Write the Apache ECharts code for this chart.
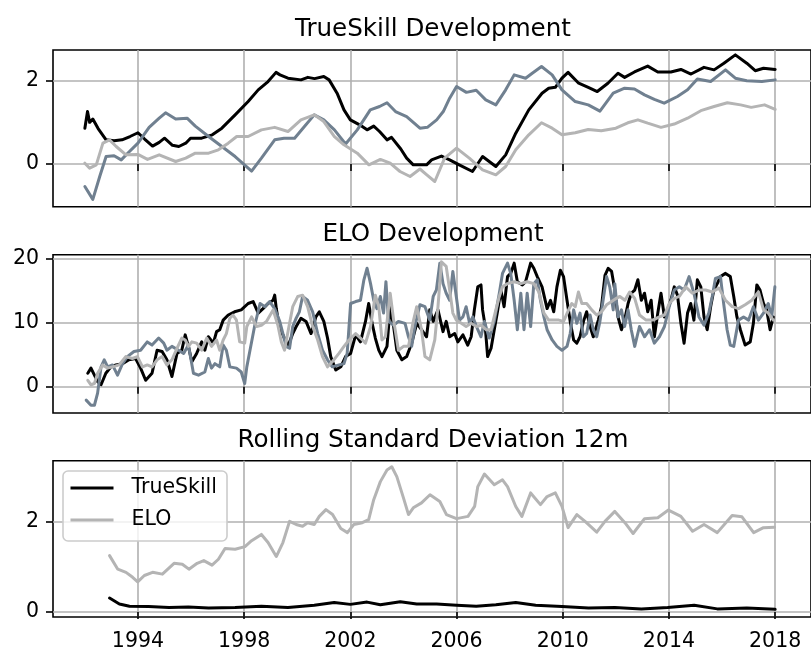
<!DOCTYPE html>
<html>
<head>
<meta charset="utf-8">
<script src="https://cdn.jsdelivr.net/npm/echarts@6/dist/echarts.min.js"></script>
<style>html,body{margin:0;padding:0;background:#fff}#c{width:811px;height:652px}</style>
</head>
<body>
<div id="c"></div>
<script>
// ---- tick labels ----
const xTicks = [1994, 1998, 2002, 2006, 2010, 2014, 2018];
const yTicksTop = [0, 2];
const yTicksMid = [0, 10, 20];
const yTicksBot = [0, 2];
const titles = ['TrueSkill Development', 'ELO Development', 'Rolling Standard Deviation 12m'];
const legendNames = ['TrueSkill', 'ELO'];

// ---- TrueSkill development: [year, value] ----
const tsBlack = [[1992.0,0.86],[1992.1,1.26],[1992.18,1.0],[1992.3,1.08],[1992.5,0.85],[1992.8,0.58],[1993.1,0.56],[1993.4,0.58],[1993.7,0.66],[1994.0,0.75],[1994.25,0.6],[1994.55,0.43],[1994.8,0.52],[1995.0,0.62],[1995.3,0.45],[1995.54,0.42],[1995.8,0.5],[1995.98,0.62],[1996.4,0.62],[1996.8,0.7],[1997.16,0.86],[1997.66,1.18],[1998.15,1.5],[1998.53,1.78],[1998.9,1.98],[1999.2,2.2],[1999.35,2.14],[1999.65,2.06],[2000.14,2.02],[2000.4,2.08],[2000.65,2.05],[2001.0,2.1],[2001.2,2.02],[2001.5,1.7],[2001.76,1.3],[2002.0,1.06],[2002.35,0.94],[2002.63,0.82],[2002.88,0.91],[2003.1,0.78],[2003.38,0.58],[2003.55,0.64],[2003.9,0.36],[2004.12,0.14],[2004.37,-0.02],[2004.87,-0.02],[2005.06,0.1],[2005.43,0.19],[2005.74,0.1],[2006.1,-0.02],[2006.6,-0.18],[2006.98,0.18],[2007.48,-0.06],[2007.85,0.22],[2008.23,0.74],[2008.72,1.3],[2009.22,1.7],[2009.47,1.82],[2009.72,1.84],[2009.97,2.06],[2010.2,2.2],[2010.6,1.94],[2010.96,1.84],[2011.3,1.74],[2011.7,1.94],[2012.08,2.18],[2012.33,2.08],[2012.7,2.21],[2013.2,2.35],[2013.58,2.21],[2014.07,2.21],[2014.45,2.27],[2014.83,2.16],[2015.32,2.32],[2015.7,2.26],[2016.07,2.42],[2016.5,2.62],[2016.93,2.42],[2017.25,2.24],[2017.56,2.3],[2018.0,2.27]];
const tsSlate = [[1992.0,-0.54],[1992.3,-0.85],[1992.56,-0.3],[1992.8,0.18],[1993.1,0.2],[1993.37,0.1],[1993.68,0.3],[1994.0,0.5],[1994.42,0.88],[1994.8,1.1],[1995.04,1.23],[1995.42,1.08],[1995.85,1.1],[1996.16,0.91],[1996.66,0.66],[1997.16,0.42],[1997.66,0.18],[1998.28,-0.17],[1998.65,0.14],[1999.15,0.58],[1999.5,0.62],[1999.9,0.62],[2000.27,0.9],[2000.64,1.18],[2001.0,1.06],[2001.4,0.82],[2001.82,0.48],[2002.26,0.82],[2002.75,1.3],[2003.1,1.38],[2003.38,1.47],[2003.7,1.26],[2004.12,1.14],[2004.62,0.86],[2004.9,0.88],[2005.25,1.06],[2005.5,1.26],[2005.74,1.58],[2006.0,1.86],[2006.37,1.72],[2006.74,1.77],[2007.1,1.54],[2007.48,1.42],[2007.85,1.78],[2008.17,2.14],[2008.6,2.06],[2008.85,2.18],[2009.2,2.34],[2009.6,2.14],[2009.97,1.78],[2010.47,1.5],[2010.96,1.42],[2011.4,1.27],[2011.9,1.7],[2012.33,1.82],[2012.7,1.8],[2013.08,1.66],[2013.45,1.55],[2013.82,1.46],[2014.32,1.62],[2014.7,1.78],[2015.07,2.04],[2015.57,1.98],[2016.13,2.26],[2016.5,2.06],[2016.93,2.0],[2017.5,1.98],[2018.0,2.02]];
const tsGray = [[1992.0,0.02],[1992.18,-0.1],[1992.43,-0.02],[1992.68,0.5],[1992.93,0.58],[1993.18,0.42],[1993.55,0.22],[1994.0,0.23],[1994.36,0.11],[1994.8,0.22],[1995.42,0.06],[1995.8,0.14],[1996.16,0.26],[1996.66,0.26],[1997.03,0.34],[1997.4,0.5],[1997.72,0.66],[1998.15,0.66],[1998.65,0.82],[1999.15,0.88],[1999.65,0.78],[2000.14,1.06],[2000.64,1.18],[2001.0,1.02],[2001.4,0.66],[2001.76,0.46],[2002.26,0.26],[2002.7,-0.02],[2003.13,0.11],[2003.5,0.02],[2003.87,-0.18],[2004.25,-0.3],[2004.62,-0.12],[2004.88,-0.26],[2005.18,-0.42],[2005.55,0.14],[2006.0,0.38],[2006.48,0.14],[2006.98,-0.14],[2007.48,-0.26],[2007.85,-0.06],[2008.23,0.34],[2008.72,0.7],[2009.2,0.99],[2009.6,0.86],[2009.97,0.7],[2010.47,0.75],[2010.96,0.83],[2011.45,0.8],[2012.0,0.86],[2012.45,0.99],[2012.83,1.06],[2013.2,0.98],[2013.7,0.88],[2014.2,0.96],[2014.7,1.1],[2015.2,1.28],[2015.7,1.38],[2016.2,1.47],[2016.7,1.42],[2017.1,1.36],[2017.6,1.42],[2018.0,1.31]];

// ---- ELO development: [year, value] ----
const eloBlack = [[1992.11,2.1],[1992.23,2.9],[1992.36,1.8],[1992.48,0.8],[1992.61,0.3],[1992.79,2.1],[1992.98,3.1],[1993.17,3.4],[1993.42,3.6],[1993.66,4.2],[1993.91,4.4],[1994.1,2.9],[1994.29,1.0],[1994.53,2.1],[1994.72,5.7],[1994.91,5.5],[1995.09,4.2],[1995.28,1.6],[1995.47,5.2],[1995.65,5.7],[1995.78,8.1],[1995.9,6.3],[1996.03,3.9],[1996.21,5.2],[1996.4,7.0],[1996.52,5.7],[1996.65,7.8],[1996.84,6.8],[1996.96,8.6],[1997.08,8.9],[1997.21,10.4],[1997.4,11.2],[1997.64,11.7],[1997.89,12.0],[1998.15,13.0],[1998.34,13.3],[1998.53,11.5],[1998.71,12.2],[1998.9,13.0],[1999.09,13.5],[1999.15,14.3],[1999.21,12.2],[1999.34,8.9],[1999.46,8.1],[1999.65,6.3],[1999.83,8.3],[1999.96,9.4],[2000.14,10.7],[2000.33,10.2],[2000.52,8.3],[2000.7,10.9],[2000.83,11.7],[2001.0,10.2],[2001.14,7.6],[2001.26,4.7],[2001.45,2.6],[2001.64,3.1],[2001.82,4.7],[2002.01,5.2],[2002.2,8.1],[2002.38,7.0],[2002.57,10.2],[2002.69,13.0],[2002.82,9.9],[2002.94,7.6],[2003.07,5.7],[2003.19,4.7],[2003.38,6.3],[2003.5,12.5],[2003.63,9.4],[2003.75,5.7],[2003.94,4.2],[2004.12,4.7],[2004.31,6.8],[2004.5,9.9],[2004.68,8.9],[2004.87,7.8],[2004.99,12.0],[2005.12,10.2],[2005.3,12.0],[2005.49,8.6],[2005.61,10.2],[2005.74,7.8],[2005.93,8.3],[2006.05,7.0],[2006.24,8.1],[2006.42,6.5],[2006.55,7.8],[2006.67,12.0],[2006.8,15.6],[2006.92,15.9],[2006.98,12.0],[2007.08,9.4],[2007.17,4.7],[2007.3,6.0],[2007.42,8.9],[2007.54,11.7],[2007.67,15.1],[2007.79,12.5],[2007.92,17.2],[2008.04,17.7],[2008.17,19.3],[2008.29,16.4],[2008.48,15.9],[2008.6,16.4],[2008.79,19.3],[2008.91,18.5],[2009.04,17.2],[2009.22,15.6],[2009.41,12.2],[2009.54,13.5],[2009.66,11.7],[2009.78,15.6],[2009.91,18.2],[2010.03,17.2],[2010.16,13.5],[2010.28,10.2],[2010.41,7.3],[2010.53,6.8],[2010.65,7.8],[2010.78,10.2],[2010.9,11.7],[2011.03,9.4],[2011.15,7.8],[2011.34,10.4],[2011.46,12.5],[2011.59,17.4],[2011.71,18.5],[2011.84,18.0],[2011.96,15.1],[2012.08,10.9],[2012.21,8.9],[2012.33,10.4],[2012.46,13.0],[2012.58,14.6],[2012.71,15.1],[2012.83,16.7],[2012.96,13.5],[2013.08,14.6],[2013.2,11.7],[2013.33,13.5],[2013.45,7.8],[2013.58,11.5],[2013.7,14.6],[2013.83,10.9],[2013.95,12.0],[2014.07,13.5],[2014.2,15.6],[2014.32,14.3],[2014.45,9.9],[2014.57,6.8],[2014.7,11.5],[2014.82,13.0],[2014.94,10.4],[2015.07,16.7],[2015.2,15.6],[2015.32,10.9],[2015.44,8.9],[2015.57,12.5],[2015.69,15.1],[2015.82,16.1],[2015.94,17.2],[2016.13,17.7],[2016.31,17.2],[2016.44,14.1],[2016.56,10.9],[2016.69,8.9],[2016.87,6.5],[2017.06,7.0],[2017.18,9.9],[2017.31,15.9],[2017.43,15.1],[2017.56,13.0],[2017.68,12.0],[2017.81,8.9],[2017.93,10.9]];
const eloSlate = [[1992.05,-2.1],[1992.23,-2.9],[1992.36,-2.9],[1992.48,-1.0],[1992.61,3.1],[1992.73,4.2],[1992.86,3.1],[1993.04,3.4],[1993.23,1.8],[1993.42,3.6],[1993.6,4.7],[1993.85,5.5],[1994.1,5.7],[1994.35,7.0],[1994.53,6.5],[1994.78,7.6],[1994.97,6.8],[1995.09,5.7],[1995.28,6.3],[1995.53,5.7],[1995.72,5.2],[1995.9,6.5],[1996.09,2.1],[1996.28,1.8],[1996.52,2.3],[1996.65,4.4],[1996.77,2.9],[1996.9,3.6],[1997.08,3.1],[1997.21,6.5],[1997.33,5.7],[1997.46,3.1],[1997.71,2.9],[1997.89,2.3],[1998.02,0.5],[1998.1,3.1],[1998.22,5.7],[1998.4,9.6],[1998.6,13.0],[1998.78,12.5],[1998.96,13.3],[1999.15,12.2],[1999.34,10.2],[1999.46,8.3],[1999.58,6.3],[1999.71,6.0],[1999.83,9.4],[1999.96,10.7],[2000.08,11.7],[2000.2,14.1],[2000.39,13.5],[2000.58,11.7],[2000.77,8.3],[2000.95,5.7],[2001.14,4.2],[2001.32,3.1],[2001.57,3.4],[2001.76,3.6],[2001.88,5.2],[2002.01,13.0],[2002.2,13.3],[2002.38,13.5],[2002.51,16.7],[2002.63,18.5],[2002.76,16.1],[2002.88,13.5],[2003.0,12.2],[2003.13,14.1],[2003.25,11.5],[2003.34,16.4],[2003.44,10.2],[2003.63,9.6],[2003.81,10.2],[2004.06,9.9],[2004.19,7.8],[2004.31,6.3],[2004.43,9.4],[2004.62,12.8],[2004.81,12.5],[2004.99,10.4],[2005.12,14.1],[2005.24,15.1],[2005.37,19.3],[2005.49,16.1],[2005.61,14.6],[2005.74,13.5],[2005.86,18.0],[2005.99,14.1],[2006.11,10.4],[2006.24,10.9],[2006.36,12.5],[2006.49,9.9],[2006.61,10.9],[2006.8,8.9],[2006.92,7.8],[2007.05,10.2],[2007.23,7.6],[2007.42,10.2],[2007.61,14.6],[2007.73,17.7],[2007.92,19.3],[2008.04,17.7],[2008.17,13.5],[2008.29,8.9],[2008.42,14.6],[2008.54,8.9],[2008.66,14.6],[2008.79,9.4],[2008.91,16.1],[2009.04,16.7],[2009.16,13.5],[2009.29,10.9],[2009.41,8.9],[2009.6,7.3],[2009.78,6.3],[2009.97,5.7],[2010.16,6.3],[2010.28,8.3],[2010.41,12.0],[2010.53,9.9],[2010.65,11.5],[2010.78,7.8],[2010.9,8.3],[2011.03,11.2],[2011.15,8.9],[2011.28,7.8],[2011.4,10.2],[2011.52,13.5],[2011.65,17.2],[2011.77,15.6],[2011.9,12.0],[2011.96,16.1],[2012.08,10.9],[2012.21,12.0],[2012.33,9.4],[2012.46,12.0],[2012.58,8.9],[2012.71,6.3],[2012.89,9.4],[2013.08,7.8],[2013.27,8.9],[2013.45,6.8],[2013.64,7.8],[2013.83,9.4],[2014.01,12.5],[2014.2,15.1],[2014.39,15.6],[2014.57,15.1],[2014.76,17.2],[2014.94,14.6],[2015.13,10.9],[2015.32,9.6],[2015.5,11.5],[2015.63,14.1],[2015.75,16.9],[2015.94,17.2],[2016.06,13.0],[2016.19,8.9],[2016.31,6.5],[2016.44,6.3],[2016.62,10.4],[2016.81,10.9],[2017.0,10.4],[2017.18,12.5],[2017.37,10.4],[2017.56,11.5],[2017.74,13.0],[2017.87,10.9],[2017.99,15.6]];
const eloGray = [[1992.11,1.0],[1992.23,0.3],[1992.36,0.5],[1992.48,2.1],[1992.67,3.4],[1992.86,2.9],[1993.04,3.1],[1993.29,3.4],[1993.54,4.7],[1993.79,4.4],[1993.98,4.7],[1994.17,3.1],[1994.35,3.4],[1994.53,3.1],[1994.72,4.2],[1994.91,4.7],[1995.09,3.4],[1995.28,4.2],[1995.47,6.0],[1995.65,7.6],[1995.78,7.3],[1995.9,6.3],[1996.03,7.0],[1996.21,6.8],[1996.4,5.7],[1996.59,7.6],[1996.77,6.3],[1996.96,7.3],[1997.08,5.7],[1997.21,7.3],[1997.33,8.3],[1997.46,10.7],[1997.58,11.2],[1997.71,10.4],[1997.83,7.0],[1998.02,6.8],[1998.1,9.4],[1998.28,10.9],[1998.47,9.4],[1998.65,9.6],[1998.84,10.2],[1999.09,12.0],[1999.27,9.6],[1999.4,7.0],[1999.52,5.7],[1999.71,9.9],[1999.83,12.5],[2000.02,14.1],[2000.2,14.3],[2000.39,12.5],[2000.58,9.4],[2000.77,7.3],[2000.95,4.7],[2001.14,3.1],[2001.32,3.9],[2001.57,5.2],[2001.76,6.3],[2001.95,7.3],[2002.2,8.3],[2002.38,7.6],[2002.57,6.8],[2002.76,9.4],[2002.94,14.3],[2003.07,12.5],[2003.19,7.3],[2003.32,7.8],[2003.5,14.6],[2003.63,10.4],[2003.81,5.7],[2004.0,6.3],[2004.19,6.3],[2004.37,10.2],[2004.5,12.5],[2004.68,8.9],[2004.81,4.7],[2004.99,4.2],[2005.18,7.3],[2005.3,12.5],[2005.43,19.5],[2005.61,18.8],[2005.74,15.1],[2005.86,11.5],[2005.99,10.4],[2006.18,9.9],[2006.36,9.4],[2006.55,9.9],[2006.74,9.4],[2006.92,9.6],[2007.11,8.9],[2007.3,8.9],[2007.48,12.0],[2007.61,14.1],[2007.73,15.6],[2007.92,16.1],[2008.17,16.4],[2008.42,16.1],[2008.66,16.4],[2008.91,16.1],[2009.1,14.8],[2009.29,11.5],[2009.47,10.4],[2009.66,10.4],[2009.85,10.4],[2010.03,10.2],[2010.22,12.0],[2010.34,13.0],[2010.47,12.5],[2010.59,14.8],[2010.72,13.0],[2010.9,13.0],[2011.09,12.0],[2011.28,11.2],[2011.46,11.7],[2011.65,12.8],[2011.84,13.3],[2012.02,13.8],[2012.15,14.1],[2012.34,13.5],[2012.52,14.8],[2012.71,13.8],[2012.89,11.2],[2013.14,10.4],[2013.39,10.4],[2013.64,10.9],[2013.83,11.2],[2014.01,13.0],[2014.2,13.8],[2014.39,14.1],[2014.63,15.6],[2014.88,14.6],[2015.13,15.1],[2015.38,15.1],[2015.63,14.8],[2015.88,15.4],[2016.13,13.5],[2016.38,12.5],[2016.62,12.2],[2016.87,12.8],[2017.12,13.5],[2017.37,14.8],[2017.56,12.0],[2017.74,11.5],[2017.93,10.4]];

// ---- Rolling standard deviation 12m: [year, value] ----
const sdTrueSkill = [[1992.93,0.31],[1993.3,0.18],[1993.68,0.13],[1994.4,0.12],[1995.17,0.1],[1995.9,0.11],[1996.66,0.09],[1997.66,0.1],[1998.65,0.13],[1999.65,0.1],[2000.64,0.15],[2001.39,0.21],[2002.0,0.17],[2002.63,0.22],[2003.13,0.16],[2003.88,0.23],[2004.5,0.18],[2005.25,0.18],[2006.0,0.15],[2006.74,0.13],[2007.48,0.16],[2008.23,0.21],[2008.98,0.15],[2009.97,0.12],[2010.97,0.09],[2011.96,0.1],[2012.96,0.07],[2013.95,0.1],[2014.95,0.15],[2015.82,0.07],[2016.93,0.09],[2018.0,0.06]];
const sdElo = [[1992.93,1.25],[1993.24,0.95],[1993.55,0.88],[1993.8,0.77],[1993.99,0.67],[1994.24,0.81],[1994.55,0.88],[1994.92,0.84],[1995.36,1.08],[1995.67,1.06],[1995.92,0.95],[1996.23,1.08],[1996.48,1.14],[1996.79,1.04],[1997.03,1.17],[1997.28,1.41],[1997.66,1.39],[1998.03,1.45],[1998.28,1.58],[1998.65,1.72],[1998.9,1.54],[1999.21,1.23],[1999.46,1.54],[1999.71,2.01],[1999.96,1.94],[2000.2,1.9],[2000.39,1.98],[2000.64,1.94],[2000.83,2.12],[2001.08,2.27],[2001.33,2.16],[2001.64,1.85],[2001.89,1.76],[2002.13,1.94],[2002.45,1.98],[2002.69,2.05],[2002.88,2.49],[2003.13,2.89],[2003.38,3.15],[2003.56,3.22],[2003.75,3.0],[2004.0,2.53],[2004.19,2.16],[2004.37,2.31],[2004.68,2.42],[2005.0,2.6],[2005.37,2.45],[2005.62,2.16],[2006.0,2.07],[2006.43,2.12],[2006.68,2.34],[2006.8,2.78],[2007.05,3.06],[2007.42,2.82],[2007.73,2.93],[2007.92,2.78],[2008.23,2.34],[2008.46,2.12],[2008.79,2.64],[2009.16,2.38],[2009.41,2.56],[2009.72,2.64],[2009.97,2.34],[2010.2,1.87],[2010.53,2.16],[2010.84,2.01],[2011.28,1.77],[2011.59,2.01],[2011.96,2.23],[2012.34,1.98],[2012.65,1.74],[2013.08,2.07],[2013.58,2.09],[2013.98,2.26],[2014.45,2.12],[2014.89,1.79],[2015.32,1.94],[2015.82,1.76],[2016.38,2.14],[2016.75,2.11],[2017.19,1.76],[2017.56,1.87],[2017.97,1.88]];

// ---- styling ----
const FONT = 'DejaVu Sans';
const C_BLACK = '#000000', C_SLATE = '#708090', C_GRAY = '#b4b4b4';
const LW = 3;
const gridTops = [50, 254.7, 460.7];
const gridHeights = [156.7, 158.3, 157.6];
const yRanges = [[-1.025, 2.737], [-4.11, 20.62], [-0.11, 3.354]];
const yTickSets = [yTicksTop, yTicksMid, yTicksBot];

const chart = echarts.init(document.getElementById('c'), null, {renderer: 'canvas'});

const grids = gridTops.map((t, i) => ({
  left: 53, right: -6, top: t, height: gridHeights[i],
  show: true, borderColor: '#000', borderWidth: 1.6, backgroundColor: 'transparent'
}));

const xAxes = [0, 1, 2].map(i => ({
  type: 'value', gridIndex: i, min: 1990.8, max: 2019.35,
  axisLine: {show: false},
  axisTick: {show: true, inside: false, length: 7, customValues: xTicks, lineStyle: {color: '#000', width: 1.6}},
  axisLabel: {show: i === 2, customValues: xTicks, margin: 14, color: '#000', fontFamily: FONT, fontSize: 20.5,
    formatter: v => String(Math.round(v))},
  splitLine: {show: true, lineStyle: {color: '#b0b0b0', width: 1.6}}
}));

const yAxes = [0, 1, 2].map(i => ({
  type: 'value', gridIndex: i, min: yRanges[i][0], max: yRanges[i][1],
  axisLine: {show: false},
  axisTick: {show: true, inside: false, length: 7, customValues: yTickSets[i], lineStyle: {color: '#000', width: 1.6}},
  axisLabel: {show: true, customValues: yTickSets[i], margin: 14, color: '#000', fontFamily: FONT, fontSize: 20.5,
    formatter: v => String(Math.round(v))},
  splitLine: {show: true, lineStyle: {color: '#b0b0b0', width: 1.6}}
}));

function line(name, data, color, gi, z) {
  return {
    type: 'line', name: name, xAxisIndex: gi, yAxisIndex: gi, data: data,
    showSymbol: false, symbol: 'none', smooth: false, animation: false, z: z,
    lineStyle: {color: color, width: LW, join: 'round', cap: 'round'},
    itemStyle: {color: color}, clip: true
  };
}

const series = [
  line('ts_black', tsBlack, C_BLACK, 0, 2),
  line('ts_slate', tsSlate, C_SLATE, 0, 3),
  line('ts_gray', tsGray, C_GRAY, 0, 4),
  line('elo_black', eloBlack, C_BLACK, 1, 2),
  line('elo_slate', eloSlate, C_SLATE, 1, 3),
  line('elo_gray', eloGray, C_GRAY, 1, 4),
  line(legendNames[0], sdTrueSkill, C_BLACK, 2, 2),
  line(legendNames[1], sdElo, C_GRAY, 2, 3)
];

const titleComps = titles.map((t, i) => ({
  text: t, left: 433, top: [17, 222.5, 428][i], textAlign: 'center', padding: 0,
  textStyle: {fontFamily: FONT, fontSize: 24.6, fontWeight: 'normal', color: '#000'}
}));

chart.setOption({
  animation: false,
  backgroundColor: '#fff',
  title: titleComps,
  grid: grids,
  xAxis: xAxes,
  yAxis: yAxes,
  legend: {
    data: legendNames.map(n => ({name: n, icon: 'rect'})),
    orient: 'vertical', left: 63, top: 471,
    itemWidth: 43, itemHeight: 3, itemGap: 10,
    padding: [6, 10, 10, 7.5],
    backgroundColor: 'rgba(255,255,255,0.8)',
    borderColor: '#cccccc', borderWidth: 1.6, borderRadius: 5,
    textStyle: {fontFamily: FONT, fontSize: 20.5, color: '#000', lineHeight: 22, padding: [0, 0, 0, 13]},
    selectedMode: false
  },
  series: series
});
</script>
</body>
</html>
